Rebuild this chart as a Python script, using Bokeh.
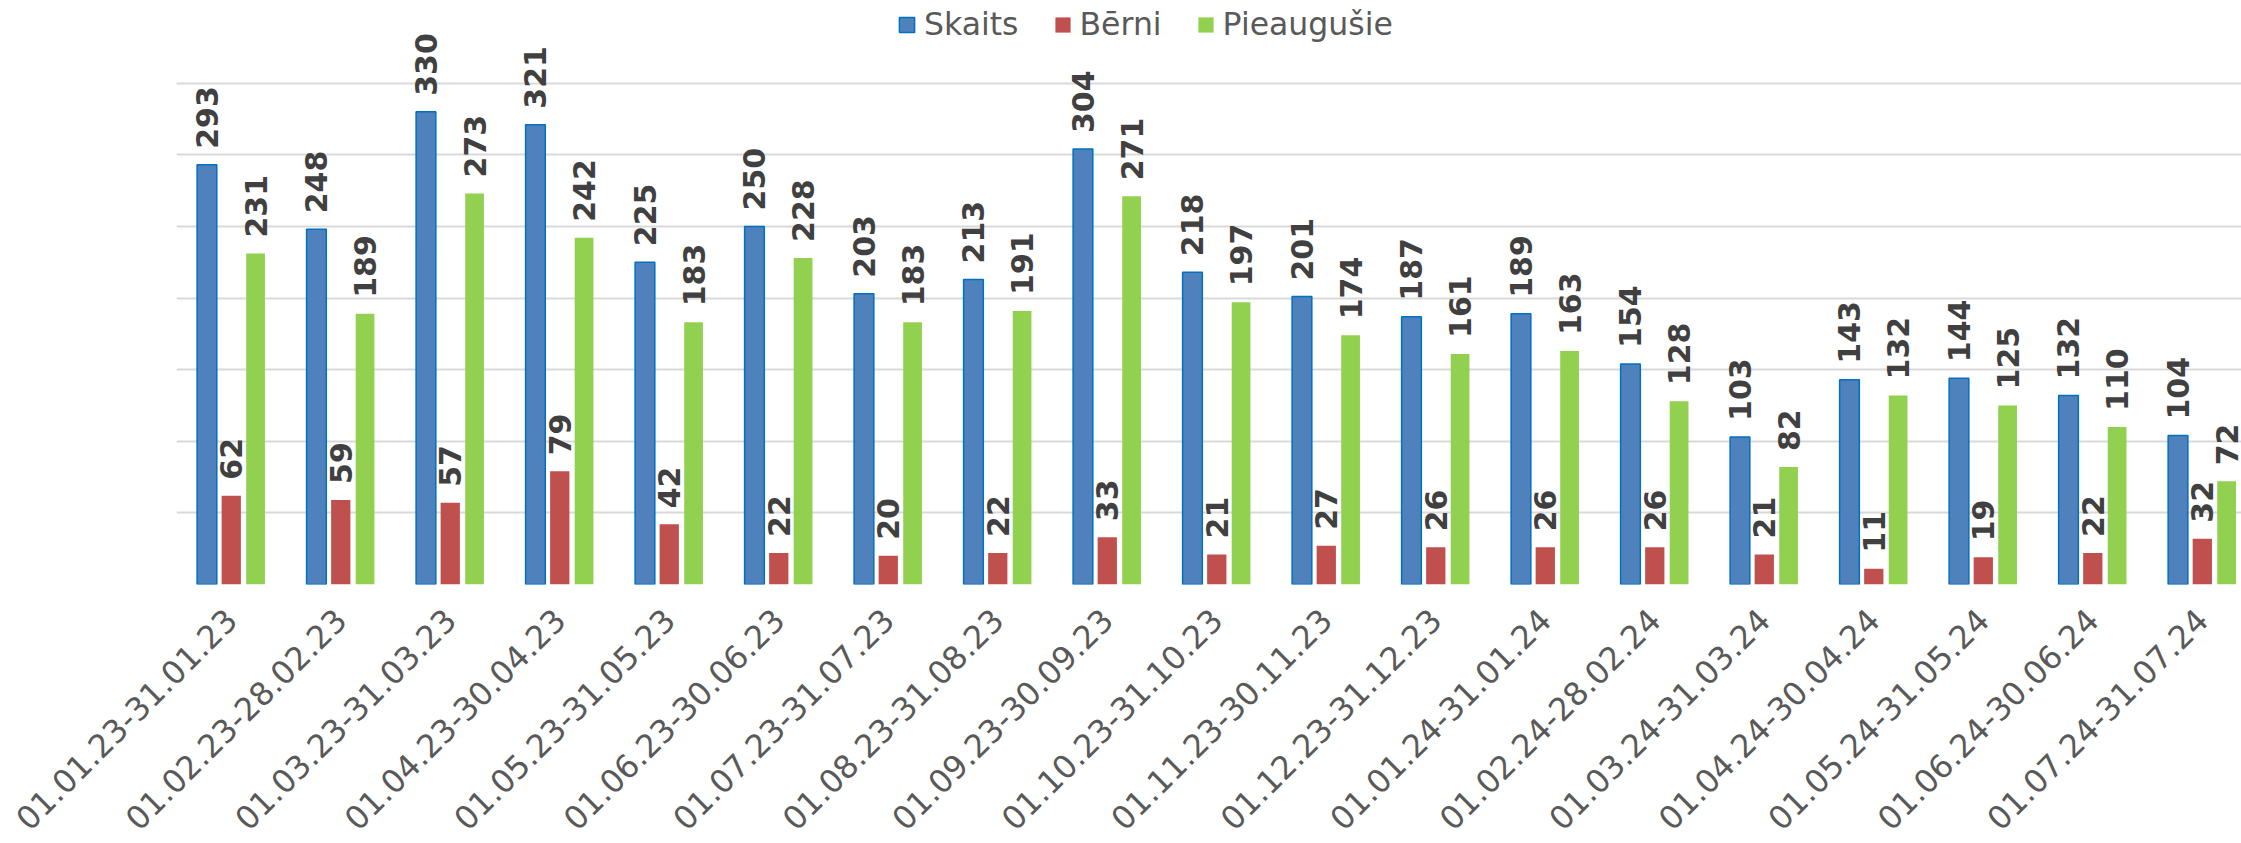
import math
from bokeh.plotting import figure
from bokeh.models import (Range1d, FixedTicker, Legend, LegendItem, ColumnDataSource)
from bokeh.core.properties import value
from bokeh.embed import file_html
from bokeh.resources import INLINE

categories = ["01.01.23-31.01.23", "01.02.23-28.02.23", "01.03.23-31.03.23",
              "01.04.23-30.04.23", "01.05.23-31.05.23", "01.06.23-30.06.23",
              "01.07.23-31.07.23", "01.08.23-31.08.23", "01.09.23-30.09.23",
              "01.10.23-31.10.23", "01.11.23-30.11.23", "01.12.23-31.12.23",
              "01.01.24-31.01.24", "01.02.24-28.02.24", "01.03.24-31.03.24",
              "01.04.24-30.04.24", "01.05.24-31.05.24", "01.06.24-30.06.24",
              "01.07.24-31.07.24"]
skaits = [293, 248, 330, 321, 225, 250, 203, 213, 304, 218, 201, 187, 189, 154, 103, 143, 144, 132, 104]
berni = [62, 59, 57, 79, 42, 22, 20, 22, 33, 21, 27, 26, 26, 26, 21, 11, 19, 22, 32]
pieaugusie = [231, 189, 273, 242, 183, 228, 183, 191, 271, 197, 174, 161, 163, 128, 82, 132, 125, 110, 72]
series_names = ["Skaits", "Bērni", "Pieaugušie"]
grid_ticks = [0, 50, 100, 150, 200, 250, 300, 350]

idx = list(range(len(categories)))

p = figure(width=2241, height=843, output_backend="svg", toolbar_location=None,
           x_range=Range1d(-0.5, 18.358), y_range=Range1d(0, 407.7),
           y_axis_location=None, title=None,
           min_border_left=176, min_border_right=0, min_border_top=0, min_border_bottom=259)
p.outline_line_color = None
p.background_fill_color = "white"

p.xgrid.grid_line_color = None
p.ygrid.ticker = FixedTicker(ticks=grid_ticks)
p.ygrid.grid_line_color = "#d9d9d9"
p.ygrid.grid_line_width = 2

xa = p.xaxis[0]
xa.ticker = FixedTicker(ticks=idx)
xa.major_label_overrides = {i: c for i, c in zip(idx, categories)}
xa.major_label_orientation = math.pi / 4
xa.axis_line_color = None
xa.major_tick_line_color = None
xa.minor_tick_line_color = None
xa.major_tick_out = 0
xa.major_tick_in = 0
xa.major_label_standoff = 30
xa.major_label_text_font = "DejaVu Sans"
xa.major_label_text_font_size = "32px"
xa.major_label_text_color = "#595959"

off = 0.222
specs = [
    (skaits, -off, 0.180, "#4f81bd", "#0070c0", 1.5),
    (berni, 0.0, 0.176, "#c0504d", None, 0),
    (pieaugusie, off, 0.171, "#92d050", None, 0),
]
renderers = []
for vals, dx, w, fill, line, lw in specs:
    src = ColumnDataSource(dict(x=[i + dx for i in idx], top=vals,
                                lab=[str(v) for v in vals]))
    r = p.vbar(x="x", top="top", bottom=0, width=w, source=src,
               fill_color=fill, line_color=line, line_width=lw)
    renderers.append(r)
    p.text(x="x", y="top", text="lab", source=src, angle=math.pi / 2,
           text_align="left", text_baseline="middle", y_offset=-16,
           text_font=value("DejaVu Sans"), text_font_style="bold",
           text_font_size="30px", text_color="#404040")

legend = Legend(items=[LegendItem(label=n, renderers=[r]) for n, r in zip(series_names, renderers)],
                orientation="horizontal", location=(721, 542),
                glyph_width=19, glyph_height=19, label_standoff=8, spacing=34,
                padding=0, margin=0, border_line_color=None,
                background_fill_alpha=0,
                label_text_font="DejaVu Sans", label_text_font_size="31.5px",
                label_text_color="#595959")
p.add_layout(legend, "center")

open("out.html", "w").write(file_html(p, INLINE))
